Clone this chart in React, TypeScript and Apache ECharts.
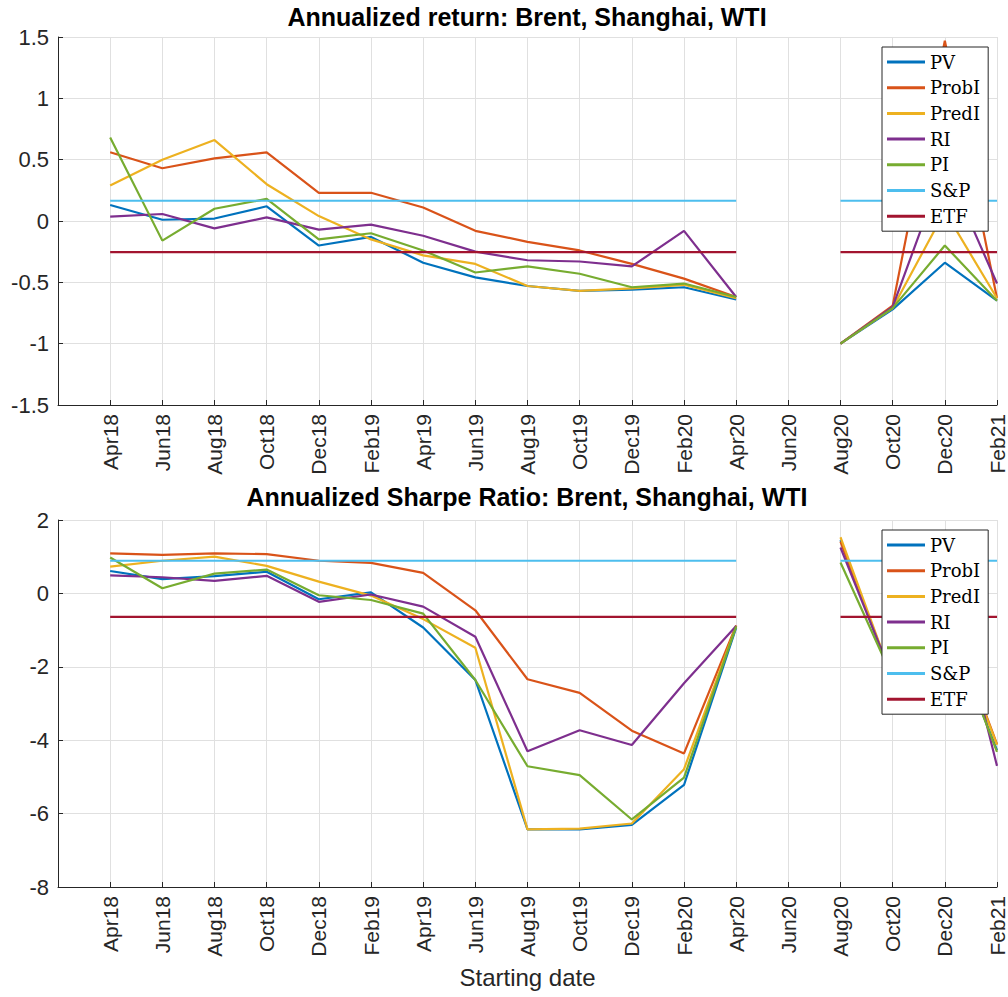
import React, { useEffect, useRef } from "react";
import * as echarts from "echarts";

const DATES = ["Apr18","Jun18","Aug18","Oct18","Dec18","Feb19","Apr19","Jun19","Aug19","Oct19","Dec19","Feb20","Apr20","Jun20","Aug20","Oct20","Dec20","Feb21"];
const NAMES = ["PV","ProbI","PredI","RI","PI","S&P","ETF"];
const COLORS = ["#0072BD","#D95319","#EDB120","#7E2F8E","#77AC30","#4DBEEE","#A2142F"];

// Annualized return
const RET_PV    = [0.13, 0.01, 0.02, 0.12, -0.20, -0.13, -0.34, -0.46, -0.53, -0.57, -0.56, -0.54, -0.64, null, -1.0, -0.72, -0.34, -0.65];
const RET_PROBI = [0.56, 0.43, 0.51, 0.56, 0.23, 0.23, 0.11, -0.08, -0.17, -0.24, -0.35, -0.47, -0.62, null, -1.0, -0.69, 1.47, -0.63];
const RET_PREDI = [0.29, 0.50, 0.66, 0.30, 0.04, -0.15, -0.28, -0.35, -0.53, -0.57, -0.55, -0.52, -0.63, null, -1.0, -0.71, 0.08, -0.63];
const RET_RI    = [0.035, 0.057, -0.06, 0.03, -0.07, -0.03, -0.12, -0.25, -0.32, -0.33, -0.37, -0.08, -0.62, null, -1.0, -0.70, 0.46, -0.51];
const RET_PI    = [0.68, -0.16, 0.10, 0.18, -0.15, -0.10, -0.24, -0.42, -0.37, -0.43, -0.54, -0.51, -0.62, null, -1.0, -0.71, -0.20, -0.65];
const RET_SP    = [0.165, 0.165, 0.165, 0.165, 0.165, 0.165, 0.165, 0.165, 0.165, 0.165, 0.165, 0.165, 0.165, null, 0.165, 0.165, 0.165, 0.165];
const RET_ETF   = [-0.253, -0.253, -0.253, -0.253, -0.253, -0.253, -0.253, -0.253, -0.253, -0.253, -0.253, -0.253, -0.253, null, -0.253, -0.253, -0.253, -0.253];

// Annualized Sharpe ratio
const SR_PV    = [0.61, 0.39, 0.47, 0.59, -0.16, 0.03, -0.93, -2.36, -6.43, -6.43, -6.31, -5.22, -0.93, null, 1.45, -2.4, -0.7, -4.27];
const SR_PROBI = [1.09, 1.05, 1.09, 1.07, 0.89, 0.83, 0.56, -0.46, -2.34, -2.71, -3.74, -4.36, -0.87, null, 1.41, -2.35, -0.3, -4.11];
const SR_PREDI = [0.73, 0.89, 1.0, 0.75, 0.32, -0.06, -0.70, -1.48, -6.43, -6.41, -6.27, -4.79, -0.89, null, 1.53, -2.35, -0.4, -4.13];
const SR_RI    = [0.49, 0.44, 0.34, 0.48, -0.23, -0.03, -0.36, -1.18, -4.30, -3.73, -4.13, -2.45, -0.89, null, 1.25, -2.3, 1.0, -4.70];
const SR_PI    = [0.98, 0.14, 0.54, 0.65, -0.05, -0.18, -0.55, -2.36, -4.71, -4.95, -6.16, -5.02, -0.90, null, 0.84, -2.3, -0.6, -4.32];
const SR_SP    = [0.89, 0.89, 0.89, 0.89, 0.89, 0.89, 0.89, 0.89, 0.89, 0.89, 0.89, 0.89, 0.89, null, 0.89, 0.89, 0.89, 0.89];
const SR_ETF   = [-0.64, -0.64, -0.64, -0.64, -0.64, -0.64, -0.64, -0.64, -0.64, -0.64, -0.64, -0.64, -0.64, null, -0.64, -0.64, -0.64, -0.64];

const RET_SERIES = [RET_PV, RET_PROBI, RET_PREDI, RET_RI, RET_PI, RET_SP, RET_ETF];
const SR_SERIES = [SR_PV, SR_PROBI, SR_PREDI, SR_RI, SR_PI, SR_SP, SR_ETF];

const TITLE_TOP = "Annualized return: Brent, Shanghai, WTI";
const TITLE_BOTTOM = "Annualized Sharpe Ratio: Brent, Shanghai, WTI";
const X_NAME = "Starting date";

const SANS = "'Liberation Sans', Arial, Helvetica, sans-serif";
const AXIS_COLOR = "#262626";
const GRID_COLOR = "#e0e0e0";

function toPairs(arr: (number | null)[]) {
  return arr.map((v, i) => (v === null ? [i, "-"] : [i, v]));
}

function makeX(gridIndex: number, name?: string) {
  return {
    gridIndex,
    type: "value",
    min: -1,
    max: 17,
    interval: 1,
    name: name || "",
    nameLocation: "middle",
    nameGap: 78,
    nameTextStyle: { fontSize: 24, color: AXIS_COLOR, fontFamily: SANS },
    axisLine: { show: true, onZero: false, lineStyle: { color: AXIS_COLOR, width: 1 } },
    axisTick: { show: true, inside: true, length: 5, lineStyle: { color: AXIS_COLOR } },
    axisLabel: {
      rotate: 90,
      fontSize: 21,
      margin: 9,
      color: AXIS_COLOR,
      fontFamily: SANS,
      showMinLabel: true,
      showMaxLabel: true,
      formatter: (v: number) => (v >= 0 && v < DATES.length ? DATES[v] : ""),
    },
    splitLine: { show: true, lineStyle: { color: GRID_COLOR, width: 1 } },
  };
}

function makeY(gridIndex: number, min: number, max: number, interval: number) {
  return {
    gridIndex,
    type: "value",
    min,
    max,
    interval,
    axisLine: { show: true, onZero: false, lineStyle: { color: AXIS_COLOR, width: 1 } },
    axisTick: { show: true, inside: true, length: 5, lineStyle: { color: AXIS_COLOR } },
    axisLabel: { fontSize: 22, margin: 9, color: AXIS_COLOR, fontFamily: SANS },
    splitLine: { show: true, lineStyle: { color: GRID_COLOR, width: 1 } },
  };
}

function makeLegend(top: number) {
  return {
    orient: "vertical",
    left: 882,
    top,
    padding: [5, 8, 5, 5],
    itemGap: 5.7,
    itemWidth: 38,
    itemHeight: 3,
    icon: "rect",
    selectedMode: false,
    backgroundColor: "#ffffff",
    borderColor: AXIS_COLOR,
    borderWidth: 1,
    borderRadius: 0,
    z: 10,
    textStyle: { fontFamily: "'DejaVu Serif', 'Liberation Serif', serif", fontSize: 18, color: "#000", lineHeight: 20 },
    data: NAMES,
  };
}

function makeSeries(data: (number | null)[][], gridIndex: number) {
  return data.map((arr, k) => ({
    name: NAMES[k],
    type: "line",
    xAxisIndex: gridIndex,
    yAxisIndex: gridIndex,
    data: toPairs(arr),
    showSymbol: false,
    symbol: "none",
    connectNulls: false,
    silent: true,
    emphasis: { disabled: true },
    lineStyle: { width: 2.2, color: COLORS[k] },
    itemStyle: { color: COLORS[k] },
  }));
}

export default function App() {
  const ref = useRef<HTMLDivElement>(null);
  useEffect(() => {
    if (!ref.current) return;
    const chart = echarts.init(ref.current, null, { renderer: "svg" });
    chart.setOption({
      animation: false,
      backgroundColor: "#ffffff",
      textStyle: { fontFamily: SANS },
      title: [
        {
          text: TITLE_TOP,
          left: 527,
          top: 4,
          padding: 0,
          textAlign: "center",
          textStyle: { fontSize: 25, fontWeight: "bold", color: "#000", fontFamily: SANS },
        },
        {
          text: TITLE_BOTTOM,
          left: 527,
          top: 484,
          padding: 0,
          textAlign: "center",
          textStyle: { fontSize: 25, fontWeight: "bold", color: "#000", fontFamily: SANS },
        },
      ],
      legend: [makeLegend(47), makeLegend(530)],
      grid: [
        { left: 58, top: 37, width: 939, height: 368, containLabel: false },
        { left: 58, top: 520, width: 939, height: 367, containLabel: false },
      ],
      xAxis: [makeX(0), makeX(1, X_NAME)],
      yAxis: [makeY(0, -1.5, 1.5, 0.5), makeY(1, -8, 2, 2)],
      series: [...makeSeries(RET_SERIES, 0), ...makeSeries(SR_SERIES, 1)],
    });
    return () => chart.dispose();
  }, []);
  return (
    <div
      ref={ref}
      style={{ position: "fixed", left: 0, top: 0, width: 1008, height: 997, background: "#fff" }}
    />
  );
}
